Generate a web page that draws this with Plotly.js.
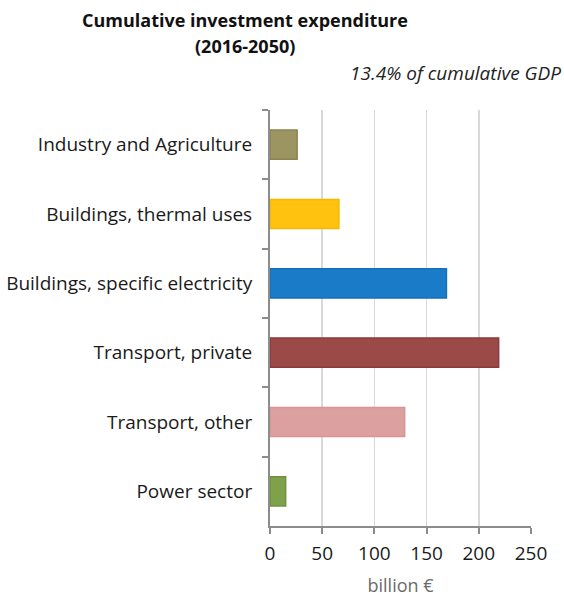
<!DOCTYPE html>
<html>
<head>
<meta charset="utf-8">
<script src="https://cdn.plot.ly/plotly-3.0.1.min.js"></script>
<style>html,body{margin:0;padding:0;background:#fff;}#chart{width:564px;height:597px;}</style>
</head>
<body>
<div id="chart"></div>
<script>
const categories = ["Industry and Agriculture", "Buildings, thermal uses", "Buildings, specific electricity", "Transport, private", "Transport, other", "Power sector"];
const values = [26, 66, 169, 219, 129, 15];
const barColors = ["#9c9461", "#ffc20e", "#1a7cc9", "#9c4a48", "#dda0a0", "#7fa14a"];
const barLines = ["#8a8352", "#f5b800", "#1570b8", "#8a3a38", "#d89494", "#6f9140"];
const xTicks = [0, 50, 100, 150, 200, 250];

const FONT = "Open Sans, Noto Sans, sans-serif";

const trace = {
  type: "bar",
  orientation: "h",
  y: categories,
  x: values,
  marker: {color: barColors, line: {color: barLines, width: 1.5}},
  hoverinfo: "x+y"
};

const layout = {
  width: 564,
  height: 597,
  margin: {l: 270, r: 33, t: 110, b: 71},
  paper_bgcolor: "#ffffff",
  plot_bgcolor: "#ffffff",
  showlegend: false,
  bargap: 0.58,
  font: {family: FONT, color: "#1a1a1a", size: 19},
  xaxis: {
    range: [0, 250],
    tickvals: xTicks,
    ticktext: xTicks.map(String),
    showgrid: true,
    gridcolor: "#d9d9d9",
    gridwidth: 1.5,
    zeroline: false,
    showline: true,
    linecolor: "#8c8c8c",
    linewidth: 2,
    ticks: "outside",
    ticklen: 6,
    tickwidth: 2,
    tickcolor: "#8c8c8c",
    ticklabelstandoff: 3,
    tickfont: {family: FONT, size: 19, color: "#1a1a1a"},
    title: {text: "billion €", font: {family: FONT, size: 18, color: "#6b6b6b"}, standoff: 18},
    fixedrange: true
  },
  yaxis: {
    autorange: "reversed",
    showgrid: false,
    zeroline: false,
    showline: true,
    linecolor: "#8c8c8c",
    linewidth: 2,
    ticks: "outside",
    tickson: "boundaries",
    ticklen: 6,
    tickwidth: 2,
    tickcolor: "#8c8c8c",
    ticklabelstandoff: 12,
    tickfont: {family: FONT, size: 19, color: "#1a1a1a"},
    fixedrange: true
  },
  annotations: [
    {text: "<b>Cumulative investment expenditure</b>", xref: "paper", yref: "paper", x: (245 - 270) / 261, y: 1, yshift: 90, xanchor: "center", yanchor: "middle", showarrow: false, font: {family: FONT, size: 18, color: "#111111"}},
    {text: "<b>(2016-2050)</b>", xref: "paper", yref: "paper", x: (245 - 270) / 261, y: 1, yshift: 64, xanchor: "center", yanchor: "middle", showarrow: false, font: {family: FONT, size: 18, color: "#111111"}},
    {text: "<i>13.4% of cumulative GDP</i>", xref: "paper", yref: "paper", x: (563 - 270) / 261, y: 1, yshift: 37, xanchor: "right", yanchor: "middle", showarrow: false, font: {family: FONT, size: 19, color: "#222222"}}
  ]
};

Plotly.newPlot("chart", [trace], layout, {displayModeBar: false, staticPlot: true});
</script>
</body>
</html>
